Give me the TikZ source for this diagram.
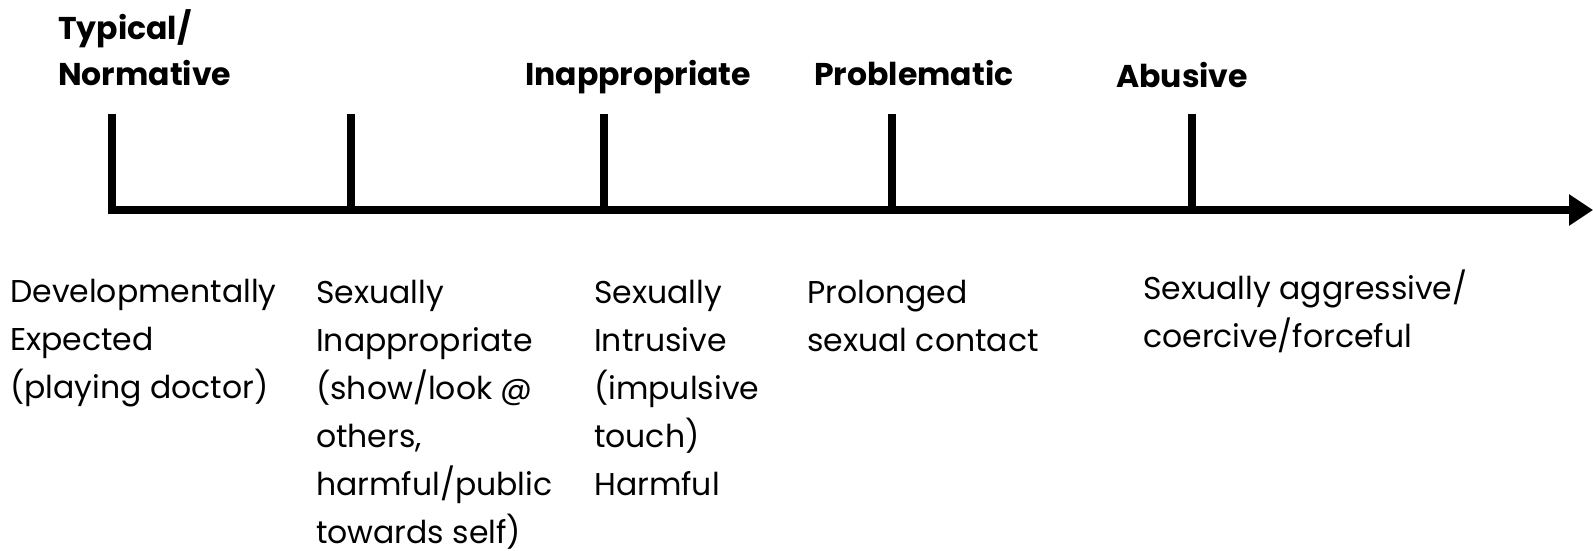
\documentclass[tikz,border=0pt]{standalone}
\usepackage{fontspec}
\setmainfont{Poppins}
\usetikzlibrary{arrows.meta}
\tikzset{
  axisline/.style={line width=8.5pt, line join=miter},
  tickline/.style={line width=7.5pt},
  headlabel/.style={anchor=base west, inner sep=0pt, align=left, font=\fontsize{31.5}{46}\selectfont\bfseries},
  desclabel/.style={anchor=base west, inner sep=0pt, align=left, font=\fontsize{31.5}{48}\selectfont},
}
\begin{document}
\begin{tikzpicture}[x=1pt,y=-1pt]
\useasboundingbox (0,0) rectangle (1593,551);
% axis points
\coordinate (a0) at (112,210);
\coordinate (aend) at (1593,210);
\coordinate (t1) at (112,210);
\coordinate (t2) at (351,210);
\coordinate (t3) at (604,210);
\coordinate (t4) at (892,210);
\coordinate (t5) at (1192,210);
\coordinate (u1) at (112,114);
\coordinate (u2) at (351,114);
\coordinate (u3) at (604,114);
\coordinate (u4) at (892,114);
\coordinate (u5) at (1192,114);
\draw[axisline, -{Triangle[length=24pt,width=30pt]}] (u1) -- (a0) -- (aend);
\foreach \i in {2,...,5} \draw[tickline] (u\i) -- (t\i);
% headings (anchored at the baseline of their last line)
\node[headlabel] (h1) at (58,85) {Typical/\\Normative};
\node[headlabel] (h3) at (525,85) {Inappropriate};
\node[headlabel] (h4) at (814,85) {Problematic};
\node[headlabel] (h5) at (1116,88) {Abusive};
% descriptions (anchored at the baseline of their last line)
\node[desclabel] (d1) at (10,398) {Developmentally\\Expected\\(playing doctor)};
\node[desclabel] (d2) at (316,543) {Sexually\\Inappropriate\\(show/look @\\others,\\harmful/public\\towards self)};
\node[desclabel] (d3) at (594,495) {Sexually\\Intrusive\\(impulsive\\touch)\\Harmful};
\node[desclabel] (d4) at (807,351) {Prolonged\\sexual contact};
\node[desclabel] (d5) at (1143,347) {Sexually aggressive/\\coercive/forceful};
\end{tikzpicture}
\end{document}
